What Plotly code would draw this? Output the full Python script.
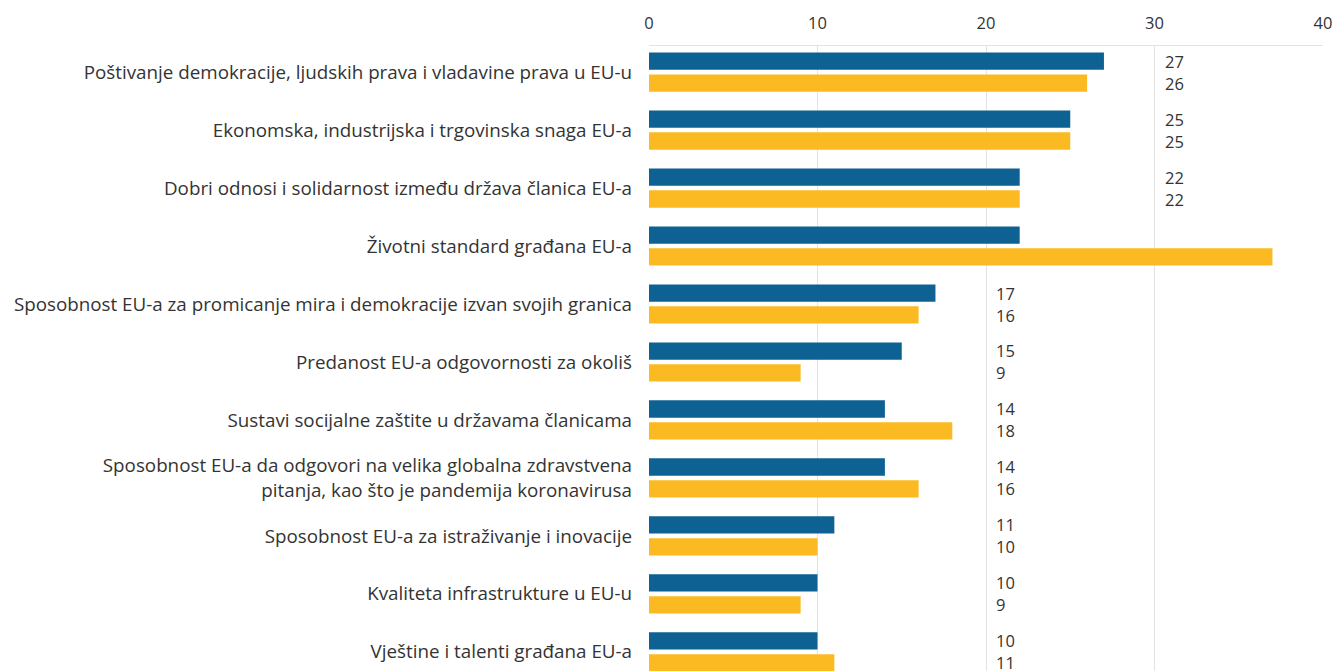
import math
import plotly.graph_objects as go

categories = [
    "Poštivanje demokracije, ljudskih prava i vladavine prava u EU-u",
    "Ekonomska, industrijska i trgovinska snaga EU-a",
    "Dobri odnosi i solidarnost između država članica EU-a",
    "Životni standard građana EU-a",
    "Sposobnost EU-a za promicanje mira i demokracije izvan svojih granica",
    "Predanost EU-a odgovornosti za okoliš",
    "Sustavi socijalne zaštite u državama članicama",
    "Sposobnost EU-a da odgovori na velika globalna zdravstvena<br>pitanja, kao što je pandemija koronavirusa",
    "Sposobnost EU-a za istraživanje i inovacije",
    "Kvaliteta infrastrukture u EU-u",
    "Vještine i talenti građana EU-a",
]
series_a = [27, 25, 22, 22, 17, 15, 14, 14, 11, 10, 10]
series_b = [26, 25, 22, 37, 16, 9, 18, 16, 10, 9, 11]
x_ticks = [0, 10, 20, 30, 40]

BLUE = "#0e6193"
YELLOW = "#fbba21"
FONT = "Open Sans"

fig = go.Figure()
fig.add_trace(go.Bar(y=categories, x=series_a, orientation="h", marker=dict(color=BLUE, line=dict(width=0)), name="A"))
fig.add_trace(go.Bar(y=categories, x=series_b, orientation="h", marker=dict(color=YELLOW, line=dict(width=0)), name="B"))

annotations = []
for cat, a, b in zip(categories, series_a, series_b):
    pos = (math.floor(max(a, b) / 10) + 1) * 10
    if pos >= x_ticks[-1]:
        continue  # label column falls outside the visible plot
    for val, shift in ((a, -11), (b, 11)):
        annotations.append(dict(x=pos, y=cat, xref="x", yref="y", text=str(val), showarrow=False,
                                xanchor="left", xshift=8, yshift=-shift, font=dict(family=FONT, size=16.5, color="#333333")))

fig.update_layout(
    width=1333, height=671,
    margin=dict(l=649, r=10, t=46, b=0),
    paper_bgcolor="white", plot_bgcolor="white",
    barmode="group", bargap=0.245, bargroupgap=0.21,
    showlegend=False,
    font=dict(family=FONT, color="#333333"),
    annotations=annotations,
    xaxis=dict(side="top", range=[0, 40], tickvals=x_ticks, showgrid=True, gridcolor="#e3e3e3", gridwidth=1,
               zeroline=False, showline=True, linecolor="#e3e3e3", ticks="", tickfont=dict(size=16.5, color="#333333"),
               ticklabelstandoff=9),
    yaxis=dict(range=[10.33, -0.45], autorange=False, showgrid=False, zeroline=False, showline=False, ticks="",
               tickfont=dict(size=18.8, color="#333333"), ticklabelstandoff=16),
)
fig.write_html("out.html", config={"displayModeBar": False},
               post_script="document.body.style.margin='0';document.body.style.overflow='hidden';")
